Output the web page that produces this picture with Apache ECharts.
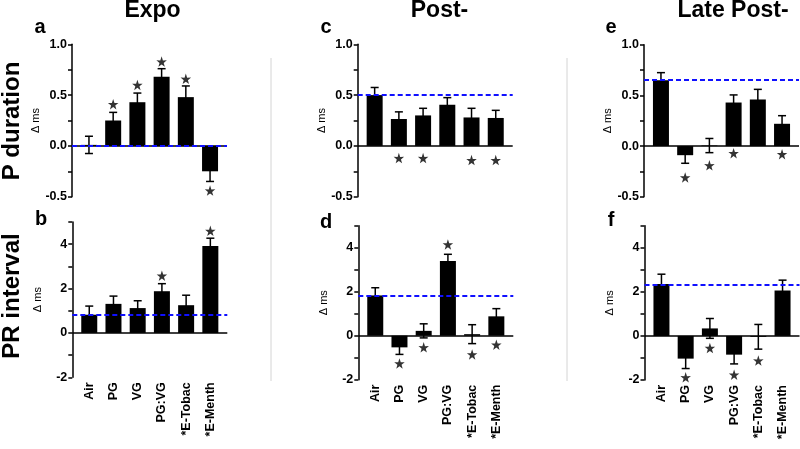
<!DOCTYPE html>
<html><head><meta charset="utf-8">
<script src="https://cdn.jsdelivr.net/npm/echarts@6/dist/echarts.min.js"></script>
<style>html,body{margin:0;padding:0;background:#fff}#c{width:800px;height:449px}</style>
</head><body><div id="c"></div>
<script>
// ---- data ----
const categories = ['Air', 'PG', 'VG', 'PG:VG', '*E-Tobac', '*E-Menth'];
const columnTitles = ['Expo', 'Post-', 'Late Post-'];
const rowTitles = ['P duration', 'PR interval'];
const panelLetters = ['a', 'c', 'e', 'b', 'd', 'f'];

// P duration (Δ ms)
const pExpoMean = [0.01, 0.25, 0.43, 0.68, 0.48, -0.25];
const pExpoSem = [0.085, 0.08, 0.09, 0.08, 0.11, 0.10];
const pExpoBase = 0.0;
const pExpoStars = [null, 0.41, 0.60, 0.83, 0.66, -0.44];

const pPostMean = [0.50, 0.265, 0.30, 0.405, 0.28, 0.275];
const pPostSem = [0.075, 0.07, 0.07, 0.07, 0.09, 0.075];
const pPostBase = 0.5;
const pPostStars = [null, -0.12, -0.12, null, -0.14, -0.14];

const pLateMean = [0.65, -0.09, 0.005, 0.43, 0.46, 0.22];
const pLateSem = [0.075, 0.08, 0.07, 0.075, 0.10, 0.08];
const pLateBase = 0.645;
const pLateStars = [null, -0.31, -0.19, -0.07, null, -0.08];

// PR interval (Δ ms)
const prExpoMean = [0.82, 1.31, 1.12, 1.88, 1.25, 3.92];
const prExpoSem = [0.39, 0.35, 0.33, 0.34, 0.45, 0.35];
const prExpoBase = 0.82;
const prExpoStars = [null, null, null, 2.58, null, 4.6];

const prPostMean = [1.83, -0.53, 0.22, 3.39, 0.07, 0.88];
const prPostSem = [0.35, 0.32, 0.32, 0.31, 0.43, 0.35];
const prPostBase = 1.83;
const prPostStars = [null, -1.26, -0.53, 4.15, -0.85, -0.41];

const prLateMean = [2.35, -1.03, 0.34, -0.85, -0.04, 2.06];
const prLateSem = [0.45, 0.45, 0.45, 0.42, 0.56, 0.47];
const prLateBase = 2.33;
const prLateStars = [null, -1.88, -0.55, -1.76, -1.12, null];

const pTicks = { min: -0.5, max: 1.0, interval: 0.25 };
const prTicks = { min: -2, max: 5, interval: 1 };

// ---- layout ----
const FONT = '"Liberation Sans", Arial, sans-serif';
const grids = [
  { left: 72, top: 44.3, width: 155, height: 152.4 },
  { left: 357.7, top: 44.3, width: 155, height: 152.4 },
  { left: 644, top: 44.8, width: 155, height: 151.9 },
  { left: 72.3, top: 222, width: 155, height: 155.3 },
  { left: 358.3, top: 225.7, width: 155, height: 154 },
  { left: 644.5, top: 225.7, width: 155, height: 154.3 }
];
const panels = [
  { mean: pExpoMean, sem: pExpoSem, base: pExpoBase, stars: pExpoStars, row: 0 },
  { mean: pPostMean, sem: pPostSem, base: pPostBase, stars: pPostStars, row: 0 },
  { mean: pLateMean, sem: pLateSem, base: pLateBase, stars: pLateStars, row: 0 },
  { mean: prExpoMean, sem: prExpoSem, base: prExpoBase, stars: prExpoStars, row: 1 },
  { mean: prPostMean, sem: prPostSem, base: prPostBase, stars: prPostStars, row: 1 },
  { mean: prLateMean, sem: prLateSem, base: prLateBase, stars: prLateStars, row: 1 }
];
const STAR = 'path://M50,0 L61.8,35.1 L98.1,34.5 L69.1,56.7 L79.4,90.5 L50,70 L20.6,90.5 L30.9,56.7 L1.9,34.5 L38.2,35.1 Z';

const option = {
  animation: false,
  backgroundColor: '#fff',
  grid: grids.map(g => Object.assign({ outerBoundsMode: 'none', containLabel: false }, g)),
  xAxis: panels.map((p, k) => ({
    type: 'value', gridIndex: k, min: -0.7, max: 5.7,
    axisLine: { show: false }, axisTick: { show: false }, splitLine: { show: false },
    axisLabel: {
      show: p.row === 1, customValues: [0, 1, 2, 3, 4, 5],
      formatter: v => categories[Math.round(v)] || '',
      rotate: 90, margin: 5, color: '#000', fontWeight: 'bold', fontSize: 12.5, fontFamily: FONT
    }
  })),
  yAxis: panels.map((p, k) => {
    const t = p.row === 0 ? pTicks : prTicks;
    return {
      type: 'value', gridIndex: k, min: t.min, max: t.max, interval: t.interval,
      name: 'Δ ms', nameLocation: 'middle', nameRotate: 90, nameGap: 29,
      nameTextStyle: { color: '#000', fontSize: 11, fontFamily: FONT },
      axisLine: { show: true, onZero: false, lineStyle: { color: '#000', width: 1.5 } },
      axisTick: { show: true, length: 4, lineStyle: { color: '#000', width: 1.5 } },
      splitLine: { show: false },
      axisLabel: {
        margin: 5, color: '#000', fontWeight: 'bold', fontSize: 12.5, fontFamily: FONT,
        formatter: v => {
          if (p.row === 0) {
            const d = v * 2;
            return Math.abs(d - Math.round(d)) < 1e-9 ? v.toFixed(1) : '';
          }
          return Math.round(v) % 2 === 0 ? String(v) : '';
        }
      }
    };
  }),
  series: [],
  graphic: []
};

panels.forEach((p, k) => {
  option.series.push({
    type: 'bar', xAxisIndex: k, yAxisIndex: k, barWidth: 16,
    itemStyle: { color: '#000' },
    data: categories.map((c, i) => [i, p.mean[i]]),
    markLine: {
      silent: true, symbol: 'none', label: { show: false },
      data: [
        { yAxis: 0, lineStyle: { color: '#000', width: 1.5, type: 'solid' } },
        { yAxis: p.base, lineStyle: { color: '#1010ff', width: 2, type: [5, 3] } }
      ]
    },
    z: 2
  });
  option.series.push({
    type: 'custom', xAxisIndex: k, yAxisIndex: k,
    data: categories.map((c, i) => [i, p.mean[i], p.sem[i]]),
    encode: { x: 0, y: 1 },
    renderItem: (params, api) => {
      const x = api.value(0), m = api.value(1), s = api.value(2);
      const hi = api.coord([x, m + s]);
      const lo = api.coord([x, m - s]);
      const w = 4;
      const st = { stroke: '#000', lineWidth: 1.5 };
      return {
        type: 'group', children: [
          { type: 'line', shape: { x1: hi[0], y1: hi[1], x2: lo[0], y2: lo[1] }, style: st },
          { type: 'line', shape: { x1: hi[0] - w, y1: hi[1], x2: hi[0] + w, y2: hi[1] }, style: st },
          { type: 'line', shape: { x1: lo[0] - w, y1: lo[1], x2: lo[0] + w, y2: lo[1] }, style: st }
        ]
      };
    },
    z: 3
  });
  option.series.push({
    type: 'scatter', xAxisIndex: k, yAxisIndex: k,
    symbol: STAR, symbolSize: 10.5, itemStyle: { color: '#000' },
    data: p.stars.map((s, i) => s === null ? null : [i, s]).filter(d => d !== null),
    z: 4
  });
});

// titles
const colCenters = [152.5, 439.5, 733];
columnTitles.forEach((t, i) => option.graphic.push({
  type: 'text', x: colCenters[i], y: 11,
  style: { text: t, font: 'bold 23px ' + FONT, fill: '#000', textAlign: 'center', textVerticalAlign: 'middle' }
}));
const rowCenters = [121, 296];
rowTitles.forEach((t, i) => option.graphic.push({
  type: 'text', x: 12, y: rowCenters[i], rotation: Math.PI / 2,
  style: { text: t, font: 'bold 24px ' + FONT, fill: '#000', textAlign: 'center', textVerticalAlign: 'middle' }
}));
const letterPos = [[40, 37], [326, 37], [611, 37], [41, 229], [326, 232], [611, 230]];
panelLetters.forEach((t, i) => option.graphic.push({
  type: 'text', x: letterPos[i][0], y: letterPos[i][1],
  style: { text: t, font: 'bold 20px ' + FONT, fill: '#000', textAlign: 'center', textVerticalAlign: 'bottom' }
}));
[271, 567].forEach(x => option.graphic.push({
  type: 'line', shape: { x1: x, y1: 58, x2: x, y2: 381 },
  style: { stroke: '#d4d4d4', lineWidth: 1 }
}));

const chart = echarts.init(document.getElementById('c'), null, { renderer: 'canvas' });
chart.setOption(option);
</script>
</body></html>
